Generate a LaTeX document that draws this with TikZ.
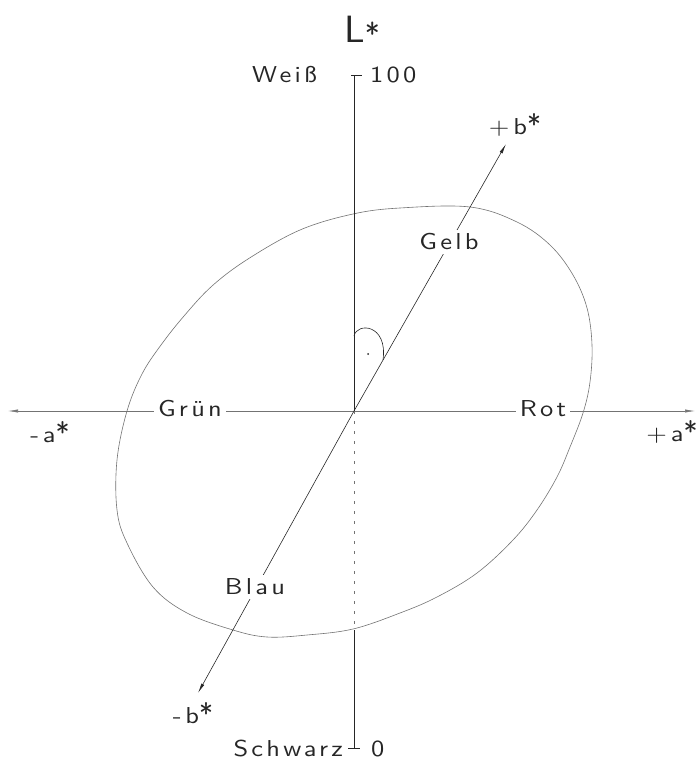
\documentclass[tikz,border=0pt]{standalone}
\usepackage{fontspec}
\usetikzlibrary{arrows.meta}
\newfontfamily\labfam{lmsans10-regular}[Extension=.otf, FakeStretch=1.15, LetterSpace=14]
\newfontfamily\bigfam{lmsans10-regular}[Extension=.otf]
\newcommand\labfont{\labfam\fontsize{23}{26}\selectfont}
\newcommand\bigstar{{\bigfam\fontsize{28}{28}\selectfont *}}
\tikzset{
  lab/.style={font=\labfont, text=black!85, inner sep=1pt},
  onl/.style={lab, fill=white, inner sep=4pt},
  axis/.style={line width=0.7pt, draw=black!85},
  faint/.style={line width=0.6pt, draw=black!55},
  tip/.style={-{Latex[length=10pt,width=3.2pt]}},
}
\begin{document}
\begin{tikzpicture}[x=1pt,y=-1pt]
\useasboundingbox (0,0) rectangle (698,762);
% coordinates
\coordinate (O) at (354,411);
\coordinate (Top) at (354,75);
\coordinate (TopL) at (351,75);
\coordinate (TopR) at (362,75);
\coordinate (Bot) at (354,748);
\coordinate (BotL) at (348,748);
\coordinate (BotR) at (360,748);
\coordinate (Ebot) at (354,630);
\coordinate (Am) at (8,411);
\coordinate (Ap) at (695,411);
\coordinate (Bp) at (506,144);
\coordinate (Bm) at (198,693);
\coordinate (R1) at (354,336);
\coordinate (R2) at (383,360);
% colour body outline
\draw[faint] plot[smooth cycle, tension=0.6] coordinates {
 (353,214) (400,208) (470,207) (517,222) (550,245) (573,275) (587,308)
 (592,345) (590,382) (583,413) (570,447) (557,477) (537,510) (513,540)
 (477,573) (437,597) (400,613) (353,629) (307,635) (267,637) (233,630)
 (187,613) (153,587) (127,543) (117,510) (117,460) (127,411) (142,374)
 (161,345) (184,316) (212,286) (248,259) (300,230)};
% L axis
\draw[axis] (O) -- (Top);
\draw[axis] (TopL) -- (TopR);
\draw[faint, dash pattern=on 3pt off 7pt] (O) -- (Ebot);
\draw[axis] (Ebot) -- (Bot);
\draw[axis] (BotL) -- (BotR);
% a axis
\draw[faint, tip] (O) -- (Ap);
\draw[faint, tip] (O) -- (Am);
% b axis
\draw[axis, line width=0.6pt, tip] (O) -- (Bp);
\draw[axis, line width=0.6pt, tip] (O) -- (Bm);
% right angle mark
\draw[axis, line width=0.6pt] (R1) .. controls (357,322) and (388,324) .. (R2);
\fill[black!85] (368,354) circle (1pt);
% labels
\node[lab, font=\bigfam\fontsize{38}{38}\selectfont] (L) at (362,30) {L\raisebox{-2pt}{\fontsize{30}{30}\selectfont *}};
\node[lab, anchor=east] (weiss) at (318,75) {Weiß};
\node[lab, anchor=west] (hundert) at (369,75) {100};
\node[lab, anchor=east] (schwarz) at (344,749) {Schwarz};
\node[lab, anchor=west] (null) at (370,749) {0};
\node[onl] (gruen) at (190,409) {Grün};
\node[onl] (rot) at (543,409) {Rot};
\node[onl] (gelb) at (449,242) {Gelb};
\node[onl] (blau) at (255,587) {Blau};
\node[lab] (am) at (50,432) {-\,a\bigstar};
\node[lab] (ap) at (672,432) {+\,a\bigstar};
\node[lab] (bp) at (515,125) {+\,b\bigstar};
\node[lab] (bm) at (193,713) {-\,b\bigstar};
\end{tikzpicture}
\end{document}
